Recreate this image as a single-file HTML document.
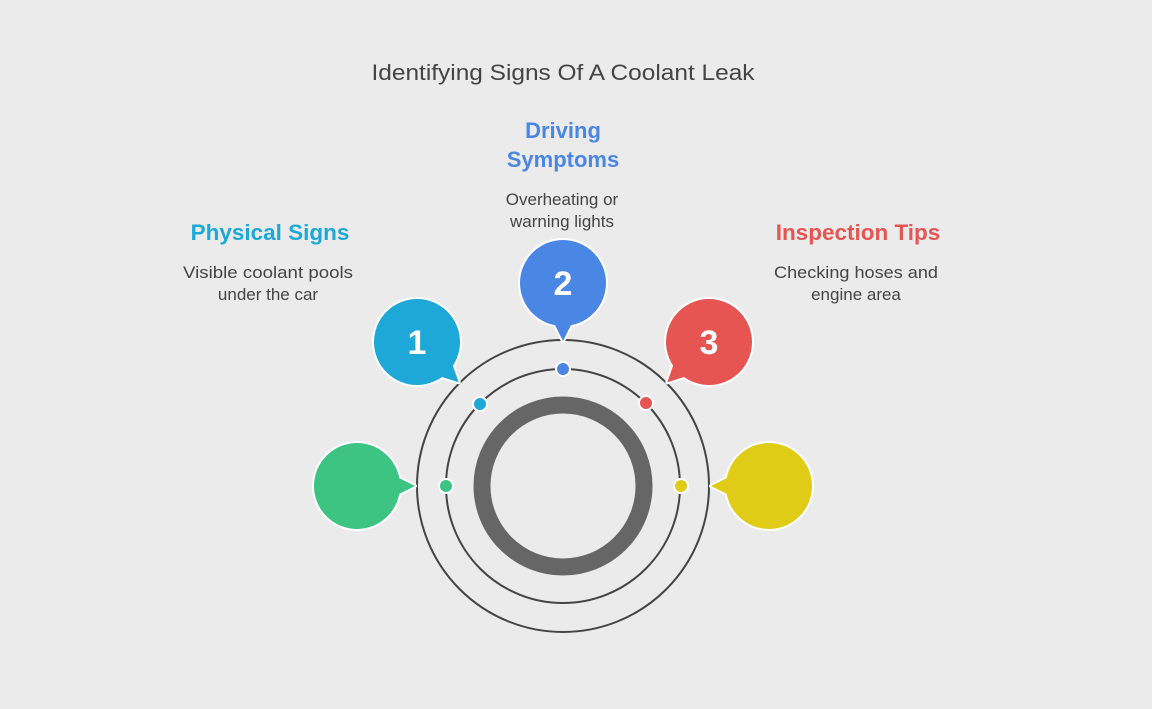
<!DOCTYPE html>
<html><head><style>
body{margin:0;width:1152px;height:704px;background:#ebebeb;overflow:hidden;font-family:"Liberation Sans",Arial,sans-serif}
</style></head><body>
<svg width="1152" height="704" viewBox="0 0 1152 704" xmlns="http://www.w3.org/2000/svg" font-family="Liberation Sans, Arial, sans-serif">
<defs>
<g id="bs"><circle r="43" fill="#fff" stroke="#fff" stroke-width="4"/><polygon points="-11,36 11,36 0,58" fill="#fff" stroke="#fff" stroke-width="4" stroke-linejoin="round"/></g>
</defs>
<text x="563" y="80" text-anchor="middle" font-size="22.5" fill="#444" textLength="383" lengthAdjust="spacingAndGlyphs">Identifying Signs Of A Coolant Leak</text>
<text x="563" y="138" text-anchor="middle" font-size="22" font-weight="bold" fill="#4a86e4">Driving</text>
<text x="563" y="167" text-anchor="middle" font-size="22" font-weight="bold" fill="#4a86e4">Symptoms</text>
<text x="562" y="205" text-anchor="middle" font-size="17" fill="#444">Overheating or</text>
<text x="562" y="227" text-anchor="middle" font-size="17" fill="#444">warning lights</text>
<text x="270" y="240" text-anchor="middle" font-size="22.5" font-weight="bold" fill="#1ea8d8">Physical Signs</text>
<text x="268" y="278" text-anchor="middle" font-size="17" fill="#444" textLength="170" lengthAdjust="spacingAndGlyphs">Visible coolant pools</text>
<text x="268" y="300" text-anchor="middle" font-size="17" fill="#444">under the car</text>
<text x="858" y="240" text-anchor="middle" font-size="22.5" font-weight="bold" fill="#e65552">Inspection Tips</text>
<text x="856" y="278" text-anchor="middle" font-size="17" fill="#444" textLength="164" lengthAdjust="spacingAndGlyphs">Checking hoses and</text>
<text x="856" y="300" text-anchor="middle" font-size="17" fill="#444">engine area</text>

<circle cx="563" cy="486" r="146" fill="none" stroke="#444" stroke-width="2"/>
<circle cx="563" cy="486" r="117" fill="none" stroke="#444" stroke-width="2"/>
<circle cx="563" cy="486" r="81" fill="none" stroke="#666" stroke-width="17"/>

<g transform="translate(563,283)"><use href="#bs"/><circle r="43" fill="#4a86e4"/><polygon points="-11,36 11,36 0,58" fill="#4a86e4"/></g>
<g transform="translate(417,342) rotate(-46)"><use href="#bs"/><circle r="43" fill="#1ea8d8"/><polygon points="-11,36 11,36 0,58" fill="#1ea8d8"/></g>
<g transform="translate(709,342) rotate(46)"><use href="#bs"/><circle r="43" fill="#e65552"/><polygon points="-11,36 11,36 0,58" fill="#e65552"/></g>
<g transform="translate(357,486) rotate(-90)"><use href="#bs"/><circle r="43" fill="#3dc482"/><polygon points="-11,36 11,36 0,58" fill="#3dc482"/></g>
<g transform="translate(769,486) rotate(90)"><use href="#bs"/><circle r="43" fill="#e0cb16"/><polygon points="-11,36 11,36 0,58" fill="#e0cb16"/></g>

<text x="563" y="295" text-anchor="middle" font-size="34" font-weight="bold" fill="#fff">2</text>
<text x="417" y="354" text-anchor="middle" font-size="34" font-weight="bold" fill="#fff">1</text>
<text x="709" y="354" text-anchor="middle" font-size="34" font-weight="bold" fill="#fff">3</text>

<g stroke="#fff" stroke-width="2">
<circle cx="563" cy="369" r="7" fill="#4a86e4"/>
<circle cx="480" cy="404" r="7" fill="#1ea8d8"/>
<circle cx="646" cy="403" r="7" fill="#e65552"/>
<circle cx="446" cy="486" r="7" fill="#3dc482"/>
<circle cx="681" cy="486" r="7" fill="#e0cb16"/>
</g>
</svg>
</body></html>
